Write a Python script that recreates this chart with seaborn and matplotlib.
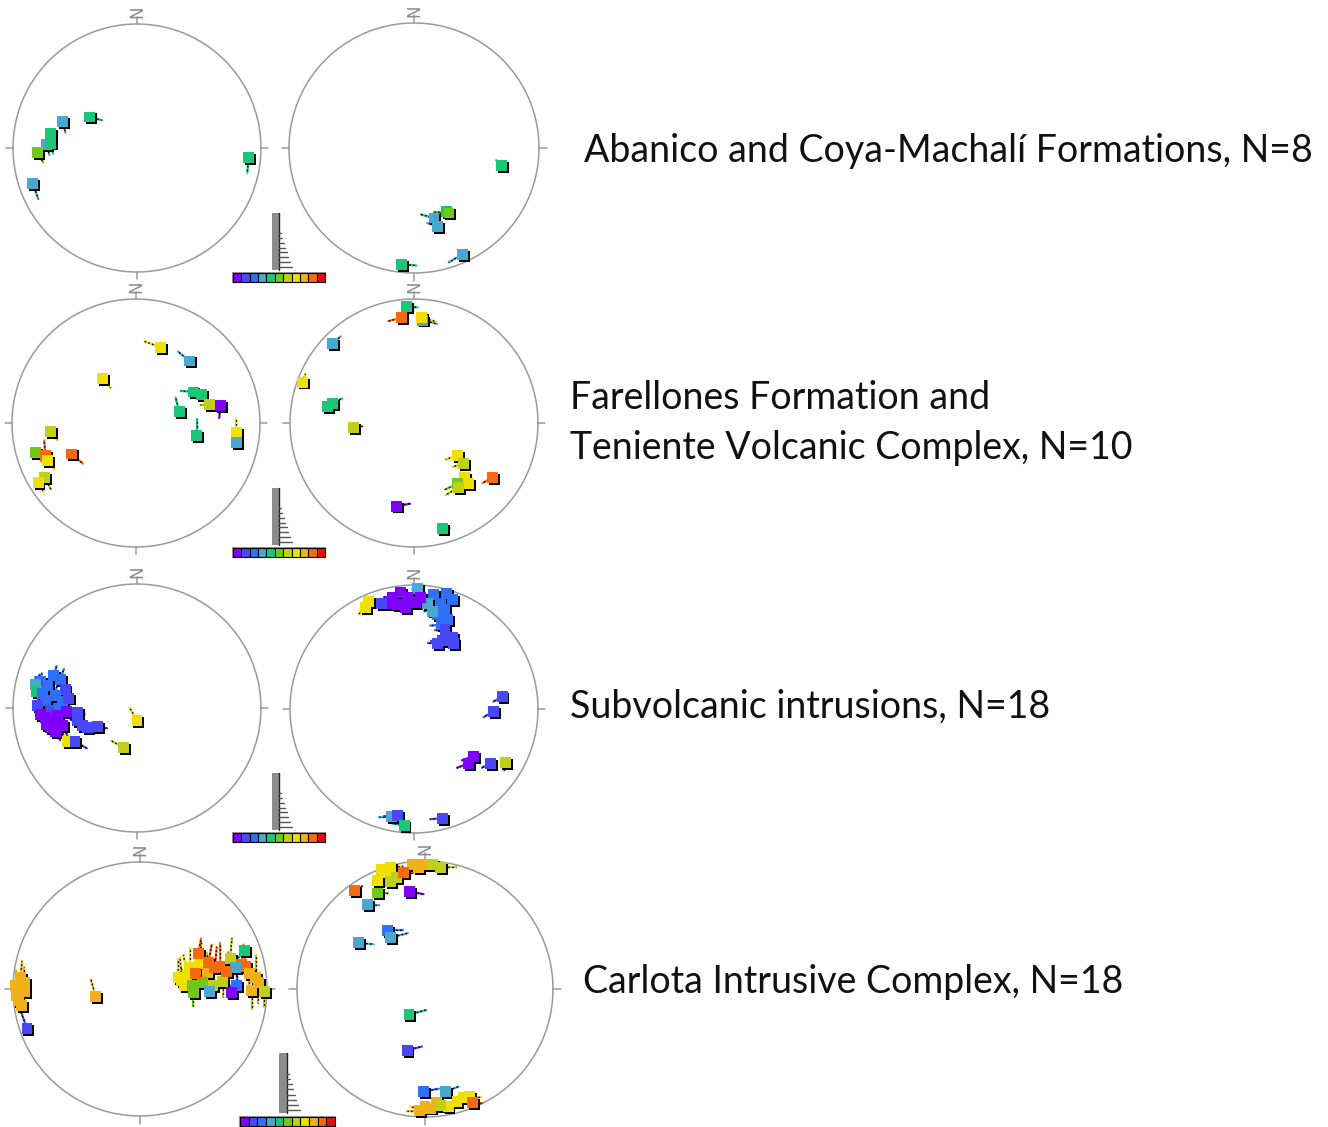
import numpy as np
import pandas as pd
import matplotlib
matplotlib.use('Agg')
import matplotlib.pyplot as plt
import matplotlib.patheffects as pe
import seaborn as sns

W, H = 1328, 1127

# colour classes of the squares (purple -> red)
class_colors = ['#7f00ff', '#4848f8', '#2f70f8', '#48a8d0', '#18c878', '#70c818',
                '#c0d018', '#f0e000', '#f0b018', '#f86810', '#e80c0c']

# ---- Abanico and Coya-Machali, left net
p1_x = [-0.38, -0.60, -0.70, -0.73, -0.70, -0.80, -0.84, 0.90]
p1_y = [0.25, 0.21, 0.12, 0.03, 0.04, -0.04, -0.29, -0.08]
p1_c = [4, 3, 4, 3, 4, 5, 3, 4]
p1_az = [105, 165, 160, 165, 165, 150, 160, 185]
p1_len = [0.10, 0.09, 0.08, 0.09, 0.09, 0.09, 0.13, 0.12]

# ---- Abanico and Coya-Machali, right net
p2_x = [0.70, 0.26, 0.28, 0.16, 0.19, 0.39, -0.10]
p2_y = [-0.14, -0.51, -0.52, -0.56, -0.63, -0.85, -0.93]
p2_c = [4, 4, 5, 3, 3, 3, 4]
p2_az = [315, 270, 270, 285, 290, 240, 95]
p2_len = [0.06, 0.10, 0.10, 0.11, 0.09, 0.13, 0.12]

# ---- Farellones / Teniente, left net
p3_x = [0.20, 0.43, -0.27, 0.46, 0.53, 0.59, 0.68, 0.35, 0.49, 0.81, 0.81,
        -0.69, -0.81, -0.73, -0.71, -0.52, -0.74, -0.79]
p3_y = [0.61, 0.50, 0.36, 0.25, 0.23, 0.15, 0.14, 0.09, -0.10, -0.08, -0.16,
        -0.07, -0.24, -0.26, -0.30, -0.25, -0.44, -0.48]
p3_c = [7, 3, 7, 4, 4, 6, 0, 4, 4, 7, 3, 6, 5, 9, 7, 9, 6, 7]
p3_az = [290, 310, 140, 275, 270, 265, 185, 345, 0, 0, 0, 140, 145, 355, 145, 130, 150, 150]
p3_len = [0.14, 0.12, 0.10, 0.10, 0.04, 0.07, 0.10, 0.12, 0.13, 0.12, 0.0,
          0.09, 0.09, 0.12, 0.09, 0.12, 0.11, 0.09]

# ---- Farellones / Teniente, right net
p4_x = [-0.06, -0.10, 0.07, 0.06, -0.66, -0.90, -0.66, -0.70, -0.49, 0.35, 0.40,
        0.63, 0.41, 0.44, 0.35, 0.36, -0.14, 0.23]
p4_y = [0.94, 0.85, 0.83, 0.85, 0.64, 0.33, 0.16, 0.13, -0.04, -0.26, -0.33,
        -0.44, -0.44, -0.49, -0.49, -0.52, -0.67, -0.85]
p4_c = [4, 9, 3, 7, 3, 7, 4, 4, 6, 7, 6, 9, 7, 7, 5, 6, 0, 4]
p4_az = [95, 255, 105, 105, 50, 20, 65, 65, 80, 250, 255, 240, 245, 245, 245, 240, 80, 90]
p4_len = [0.09, 0.11, 0.12, 0.12, 0.09, 0.07, 0.09, 0.08, 0.08, 0.10, 0.09,
          0.09, 0.04, 0.04, 0.11, 0.12, 0.11, 0.06]

# ---- Subvolcanic intrusions, left net
p5_x = [-0.78, -0.72, -0.62, -0.58, -0.66, -0.74, -0.80, -0.60, -0.70, -0.80, -0.82, -0.81,
        -0.67, -0.55, -0.76, -0.63,
        -0.74, -0.69, -0.64, -0.60, -0.70, -0.78, -0.57, -0.66, -0.73,
        -0.48, -0.48, -0.44, -0.40, -0.32, -0.56, -0.50, 0.0, -0.11]
p5_y = [0.21, 0.18, 0.23, 0.15, 0.10, 0.06, 0.02, 0.05, -0.02, 0.19, 0.19, 0.13,
        0.26, 0.08, 0.12, 0.0,
        -0.08, -0.11, -0.06, -0.14, -0.16, -0.05, -0.03, -0.19, -0.13,
        -0.04, -0.10, -0.14, -0.16, -0.15, -0.27, -0.27, -0.10, -0.32]
p5_c = [2, 2, 2, 1, 2, 2, 1, 2, 1, 1, 3, 4,
        2, 1, 2, 2,
        0, 0, 0, 0, 0, 0, 0, 0, 0,
        1, 1, 1, 1, 1, 7, 1, 7, 6]
p5_az = [10, 15, 20, 5, 10, 15, 0, 10, 5, 10, 0, 0,
         15, 10, 5, 20,
         150, 145, 150, 155, 145, 150, 150, 150, 145,
         100, 100, 100, 100, 100, 330, 120, 330, 300]
p5_len = [0.07, 0.08, 0.09, 0.07, 0.08, 0.07, 0.06, 0.08, 0.07, 0.08, 0.06, 0.06,
          0.08, 0.07, 0.06, 0.07,
          0.08, 0.08, 0.07, 0.09, 0.08, 0.07, 0.08, 0.08, 0.07,
          0.06, 0.06, 0.07, 0.08, 0.08, 0.12, 0.11, 0.12, 0.11]

# ---- Subvolcanic intrusions, right net
p6_x = [0.16, 0.21, 0.25, 0.19, 0.27, 0.22, 0.31, 0.26,
        0.03, 0.11, 0.15,
        -0.17, -0.11, -0.05, 0.01, -0.13, -0.07, -0.21, 0.05, -0.26,
        0.25, 0.31, 0.23, 0.32, 0.19,
        -0.37, -0.39,
        0.71, 0.64, 0.48, 0.44, 0.62, 0.74,
        -0.18, -0.13, -0.08, 0.23]
p6_y = [0.92, 0.85, 0.80, 0.76, 0.72, 0.68, 0.88, 0.93,
        0.97, 0.85, 0.79,
        0.90, 0.94, 0.90, 0.86, 0.84, 0.82, 0.85, 0.90, 0.85,
        0.64, 0.58, 0.55, 0.53, 0.53,
        0.87, 0.82,
        0.10, -0.02, -0.38, -0.44, -0.44, -0.43,
        -0.87, -0.86, -0.94, -0.88]
p6_c = [2, 2, 2, 2, 2, 2, 2, 2,
        3, 3, 3,
        0, 0, 0, 0, 0, 0, 0, 0, 1,
        1, 1, 1, 1, 1,
        7, 7,
        1, 1, 0, 0, 1, 6,
        3, 1, 4, 1]
p6_az = [270, 265, 270, 275, 270, 265, 270, 270,
         270, 265, 270,
         270, 265, 270, 275, 270, 265, 270, 270, 270,
         270, 265, 270, 275, 270,
         225, 225,
         240, 240, 250, 250, 245, 190,
         270, 270, 280, 265]
p6_len = [0.08, 0.07, 0.09, 0.08, 0.07, 0.09, 0.06, 0.07,
          0.05, 0.08, 0.07,
          0.07, 0.08, 0.06, 0.07, 0.08, 0.07, 0.09, 0.06, 0.08,
          0.08, 0.07, 0.09, 0.07, 0.08,
          0.08, 0.08,
          0.08, 0.09, 0.10, 0.10, 0.08, 0.07,
          0.10, 0.11, 0.10, 0.10]

# ---- Carlota Intrusive Complex, left net
p7_x = [-0.98, -0.94, -0.91, -0.96, -0.97, -0.93, -0.91, -0.89, -0.35,
        0.37, 0.33, 0.39, 0.47, 0.35, 0.53, 0.46, 0.59, 0.63, 0.54, 0.80, 0.83,
        0.71, 0.57, 0.65, 0.93, 0.91, 0.88, 0.98,
        0.42, 0.41, 0.49, 0.55, 0.75, 0.76, 0.72, 0.82,
        0.30, 0.44, 0.68, 0.86]
p7_y = [0.03, 0.09, -0.02, -0.09, -0.05, -0.13, 0.05, -0.31, -0.06,
        0.11, 0.07, 0.17, 0.20, 0.03, 0.13, 0.28, 0.17, 0.18, 0.21, 0.19, 0.18,
        0.24, 0.03, 0.06, 0.05, 0.09, -0.01, -0.02,
        -0.03, 0.03, 0.05, -0.02, 0.17, 0.03, -0.03, 0.30,
        0.09, 0.12, 0.14, 0.12]
p7_c = [8, 8, 8, 8, 8, 8, 8, 1, 8,
        7, 7, 7, 7, 7, 8, 9, 9, 9, 9, 9, 9,
        6, 6, 6, 8, 8, 8, 6,
        5, 5, 5, 3, 3, 2, 0, 4,
        7, 9, 9, 8]
p7_az = [0, 5, 0, 355, 0, 5, 0, 340, 345,
         350, 355, 0, 5, 350, 0, 10, 5, 0, 10, 0, 355,
         5, 0, 180, 180, 0, 180, 180,
         180, 0, 0, 0, 170, 0, 345, 220,
         0, 10, 5, 180]
p7_len = [0.12, 0.13, 0.10, 0.12, 0.11, 0.10, 0.12, 0.15, 0.14,
          0.16, 0.18, 0.15, 0.17, 0.14, 0.15, 0.12, 0.16, 0.18, 0.14, 0.15, 0.17,
          0.16, 0.13, 0.12, 0.16, 0.18, 0.15, 0.12,
          0.10, 0.12, 0.10, 0.09, 0.16, 0.10, 0.10, 0.07,
          0.15, 0.17, 0.15, 0.14]

# ---- Carlota Intrusive Complex, right net
p8_x = [-0.34, -0.30, -0.37, -0.27, -0.02, -0.10, -0.05, -0.27, -0.22, 0.06, -0.17, 0.12,
        -0.55, -0.37, -0.12, -0.45, -0.29, -0.27, -0.52, -0.125, -0.14, -0.01, 0.16,
        -0.04, 0.04, 0.09, 0.0, 0.18, 0.25, 0.30, 0.35, 0.12, 0.37]
p8_y = [0.93, 0.91, 0.85, 0.95, 0.97, 0.97, 0.95, 0.84, 0.87, 0.97, 0.91, 0.95,
        0.77, 0.75, 0.76, 0.66, 0.46, 0.40, 0.36, -0.20, -0.48, -0.80, -0.80,
        -0.95, -0.93, -0.89, -0.92, -0.92, -0.88, -0.85, -0.84, -0.91, -0.89]
p8_c = [7, 7, 7, 7, 8, 8, 8, 6, 6, 6, 9, 6,
        9, 5, 0, 3, 2, 3, 3, 4, 1, 2, 3,
        8, 8, 8, 8, 7, 7, 7, 7, 6, 9]
p8_az = [90, 95, 90, 85, 90, 95, 90, 100, 90, 95, 90, 90,
         60, 90, 100, 90, 90, 75, 95, 75, 75, 80, 70,
         270, 275, 90, 270, 95, 90, 100, 90, 270, 90]
p8_len = [0.10, 0.12, 0.09, 0.10, 0.11, 0.10, 0.12, 0.09, 0.10, 0.12, 0.08, 0.12,
          0.07, 0.08, 0.11, 0.09, 0.12, 0.14, 0.12, 0.14, 0.12, 0.12, 0.11,
          0.10, 0.12, 0.10, 0.11, 0.09, 0.10, 0.11, 0.09, 0.08, 0.08]

labels = ['Abanico and Coya-Machalí Formations, N=8',
          'Farellones Formation and\nTeniente Volcanic Complex, N=10',
          'Subvolcanic intrusions, N=18',
          'Carlota Intrusive Complex, N=18']

# net centre / radius in pixels of the page
nets = [
    (p1_x, p1_y, p1_c, p1_az, p1_len, 137, 148, 124),
    (p2_x, p2_y, p2_c, p2_az, p2_len, 414, 148, 125),
    (p3_x, p3_y, p3_c, p3_az, p3_len, 136, 423, 124),
    (p4_x, p4_y, p4_c, p4_az, p4_len, 414, 423, 124),
    (p5_x, p5_y, p5_c, p5_az, p5_len, 137, 708, 124),
    (p6_x, p6_y, p6_c, p6_az, p6_len, 414, 709, 124),
    (p7_x, p7_y, p7_c, p7_az, p7_len, 140, 989, 127),
    (p8_x, p8_y, p8_c, p8_az, p8_len, 425, 989, 128),
]
label_pos = [(584, 151), (570, 423), (570, 707), (583, 982)]
# legend glyph per row: colour strip x0, x1, y0, y1 and grey bar x0, x1, y0, y1
legend_pos = [
    (233, 325, 273, 282, 272, 279, 213, 270),
    (233, 325, 548, 557, 272, 279, 488, 545),
    (233, 325, 833, 842, 272, 279, 773, 830),
    (240, 335, 1117, 1126, 279, 287, 1053, 1113),
]

sns.set_theme(style='white')
plt.rcParams['font.family'] = ['Lato', 'DejaVu Sans']

fig = plt.figure(figsize=(W / 100, H / 100), dpi=100)
fig.patch.set_facecolor('white')

L = 1.15
palette = {i: c for i, c in enumerate(class_colors)}


def draw_net(xs, ys, cs, az, ln, cx, cy, r):
    half = L * r
    ax = fig.add_axes([(cx - half) / W, 1 - (cy + half) / H, 2 * half / W, 2 * half / H])
    ax.set_xlim(-L, L)
    ax.set_ylim(-L, L)
    ax.axis('off')
    ax.patch.set_alpha(0)

    t = np.linspace(0, 2 * np.pi, 400)
    ax.plot(np.cos(t), np.sin(t), color='#9a9a9a', lw=1.1, zorder=1)
    for a in [0, 90, 180, 270]:
        s, c = np.sin(np.radians(a)), np.cos(np.radians(a))
        ax.plot([s, 1.06 * s], [c, 1.06 * c], color='#9a9a9a', lw=1.1, zorder=1)
    ax.text(0, 1.095, 'N', rotation=90, ha='center', va='center', fontsize=12,
            color='#8a8a8a', family='DejaVu Sans')

    df = pd.DataFrame({'x': xs, 'y': ys, 'c': cs, 'az': az, 'len': ln})
    df['dx'] = df['len'] * np.sin(np.radians(df['az']))
    df['dy'] = df['len'] * np.cos(np.radians(df['az']))
    for row in df.itertuples():
        if row.len <= 0:
            continue
        xx = [row.x, row.x + row.dx]
        yy = [row.y, row.y + row.dy]
        ax.plot(xx, yy, color=class_colors[row.c], lw=1.6, zorder=2, clip_on=False)
        ax.plot(xx, yy, color='black', lw=1.0, ls=(0, (1.2, 1.6)), zorder=2.1, clip_on=False)

    sns.scatterplot(data=df, x='x', y='y', hue='c', palette=palette, marker='s',
                    s=62, linewidth=0, legend=False, ax=ax, zorder=3, clip_on=False)
    ax.collections[-1].set_path_effects([
        pe.SimplePatchShadow(offset=(1.4, -1.4), shadow_rgbFace='black', alpha=1.0),
        pe.Normal()])


for net in nets:
    draw_net(*net)

# overlay in page pixels for legends and captions
ov = fig.add_axes([0, 0, 1, 1])
ov.set_xlim(0, W)
ov.set_ylim(H, 0)
ov.axis('off')
ov.patch.set_alpha(0)

tick_len = [2, 3, 5, 6, 8, 9, 11, 13]
for (sx0, sx1, sy0, sy1, bx0, bx1, by0, by1) in legend_pos:
    ov.add_patch(plt.Rectangle((bx0, by0), bx1 - bx0, by1 - by0, color='#8c8c8c', lw=0))
    ov.plot([bx1, bx1], [by0, by1], color='#222222', lw=1.0)
    ty = np.linspace(by0 + 0.35 * (by1 - by0), by1 - 3, len(tick_len))
    for yv, tl in zip(ty, tick_len):
        ov.plot([bx1, bx1 + tl], [yv, yv], color='#555555', lw=1.0)
    bw = (sx1 - sx0) / len(class_colors)
    ov.add_patch(plt.Rectangle((sx0 - 1, sy0 - 1), sx1 - sx0 + 2, sy1 - sy0 + 2,
                               facecolor='#999999', lw=0))
    for i, col in enumerate(class_colors):
        ov.add_patch(plt.Rectangle((sx0 + i * bw, sy0), bw, sy1 - sy0,
                                   facecolor=col, edgecolor='black', lw=0.8))

for (tx, ty_), lab in zip(label_pos, labels):
    ov.text(tx, ty_, lab, ha='left', va='center', fontsize=27, color='#111111',
            linespacing=1.5)

fig.savefig('out.png', dpi=100, facecolor='white')
